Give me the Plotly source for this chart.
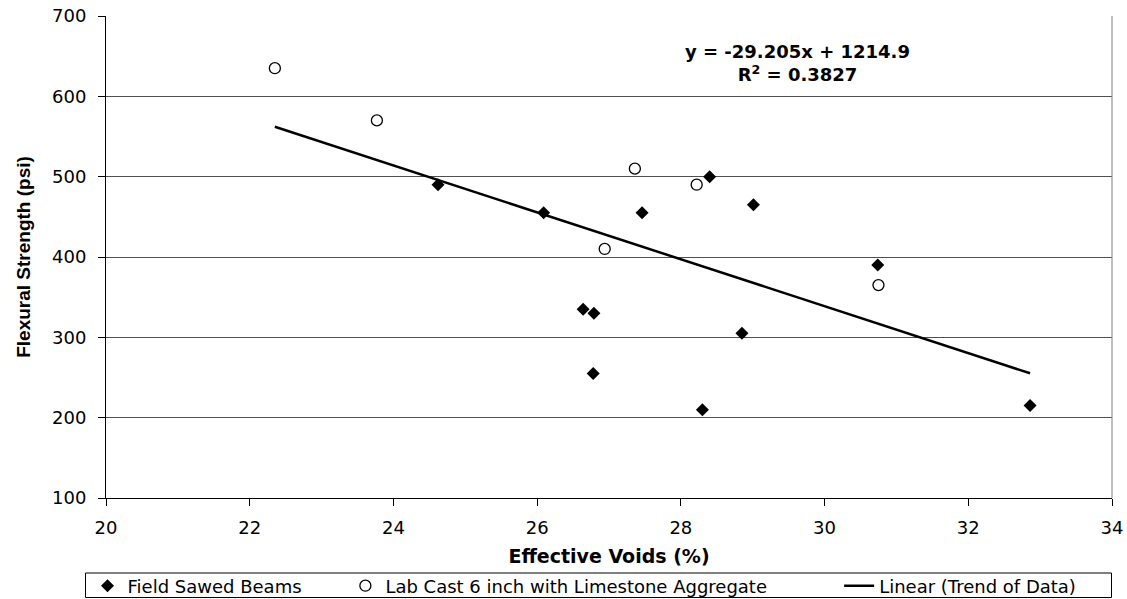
import plotly.graph_objects as go

# Field Sawed Beams
field_x = [24.62, 26.09, 27.46, 28.40, 29.01, 26.64, 26.79, 26.78, 28.85, 28.30, 30.74, 32.86]
field_y = [490, 455, 455, 500, 465, 335, 330, 255, 305, 210, 390, 215]

# Lab Cast 6 inch with Limestone Aggregate
lab_x = [22.35, 23.77, 27.36, 28.22, 26.94, 30.75]
lab_y = [635, 570, 510, 490, 410, 365]

# Linear trend (equation shown on chart)
slope = -29.205
intercept = 1214.9
r2 = 0.3827

all_x = field_x + lab_x
trend_x = [min(all_x), max(all_x)]
trend_y = [slope * v + intercept for v in trend_x]

FONT = "DejaVu Sans, sans-serif"
ARIAL = "Liberation Sans, Arial, sans-serif"

W, H = 1127, 599
ML, MR, MT, MB = 105.5, 15, 16, 101
PW = W - ML - MR
PH = H - MT - MB

def px_x(p):
    return (p - ML) / PW

def px_y(p):
    return (H - MB - p) / PH

fig = go.Figure()
fig.add_trace(go.Scatter(
    x=field_x, y=field_y, mode="markers", name="Field Sawed Beams", legend="legend",
    marker=dict(symbol="diamond", size=10, color="black", line=dict(width=0)),
))
fig.add_trace(go.Scatter(
    x=lab_x, y=lab_y, mode="markers", name="Lab Cast 6 inch with Limestone Aggregate",
    legend="legend2",
    marker=dict(symbol="circle-open", size=11, color="black", line=dict(width=1.3, color="black")),
))
fig.add_trace(go.Scatter(
    x=trend_x, y=trend_y, mode="lines", name="Linear (Trend of Data)", legend="legend3",
    line=dict(color="black", width=2.5),
))

fig.add_annotation(
    x=29.63, y=641, xref="x", yref="y",
    text=f"<b>y = {slope}x + {intercept}<br>R<sup>2</sup> = {r2}</b>",
    showarrow=False, align="center",
    font=dict(family=FONT, size=18, color="black"),
)

leg_common = dict(
    orientation="h", yanchor="middle", y=px_y(586), xanchor="left",
    bgcolor="rgba(0,0,0,0)", borderwidth=0,
    font=dict(family=FONT, size=18, color="black"),
    itemwidth=30,
)

fig.update_layout(
    width=W, height=H,
    margin=dict(l=ML, r=MR, t=MT, b=MB, autoexpand=False),
    paper_bgcolor="white", plot_bgcolor="white",
    font=dict(family=FONT, size=18, color="black"),
    showlegend=True,
    legend=dict(x=px_x(87), **leg_common),
    legend2=dict(x=px_x(345), **leg_common),
    legend3=dict(x=px_x(839), **leg_common),
    xaxis=dict(
        range=[20, 34], dtick=2, tick0=20,
        showgrid=False, zeroline=False,
        showline=True, linecolor="black", linewidth=1,
        ticks="outside", ticklen=7, tickcolor="black", ticklabelstandoff=6,
        tickfont=dict(family=FONT, size=18, color="black"),
        title=dict(text="<b>Effective Voids (%)</b>", standoff=13,
                   font=dict(family=FONT, size=19, color="black")),
    ),
    yaxis=dict(
        range=[100, 700], dtick=100, tick0=100,
        showgrid=True, gridcolor="#505050", gridwidth=1, zeroline=False,
        showline=True, linecolor="black", linewidth=1,
        ticks="outside", ticklen=7, tickcolor="black", ticklabelstandoff=8,
        tickfont=dict(family=FONT, size=18, color="black"),
        title=dict(text="<b>Flexural Strength (psi)</b>", standoff=16,
                   font=dict(family=ARIAL, size=19, color="black")),
    ),
)

# right border of plot area
fig.add_shape(type="line", xref="paper", yref="paper", x0=1, x1=1, y0=0, y1=1,
              line=dict(color="#808080", width=1))
# legend frame
fig.add_shape(type="rect", xref="paper", yref="paper",
              x0=px_x(85), x1=px_x(1111.5), y0=px_y(597.5), y1=px_y(573),
              line=dict(color="black", width=1), fillcolor="rgba(0,0,0,0)")

fig.write_html("out.html", config={"displayModeBar": False},
               post_script="document.body.style.margin='0';")
